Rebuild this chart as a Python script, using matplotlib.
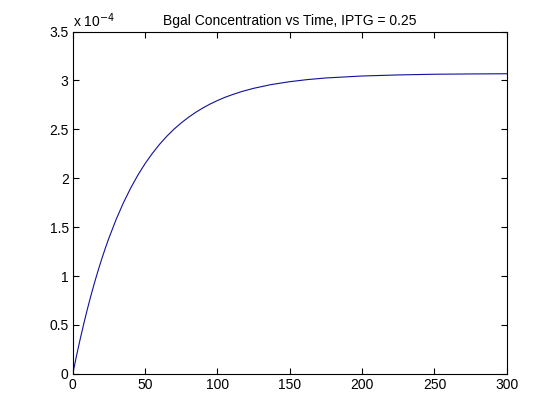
import matplotlib
matplotlib.use("Agg")
import matplotlib.pyplot as plt
from matplotlib.ticker import FuncFormatter, MultipleLocator

plt.rcParams['font.family'] = ['Liberation Sans', 'DejaVu Sans']

time = [0, 2.5, 5, 7.5, 10, 12.5, 15, 17.5, 20, 22.5, 25, 30, 35, 40, 45, 50,
        55, 60, 65, 70, 75, 80, 85, 90, 95, 100, 105, 110, 117, 125, 137,
        150, 162, 175, 200, 225, 250, 275, 300]
bgal_e4 = [0.0, 0.179, 0.348, 0.507, 0.657, 0.798, 0.931, 1.056, 1.174,
           1.285, 1.389, 1.580, 1.749, 1.899, 2.032, 2.150, 2.254, 2.347,
           2.429, 2.502, 2.566, 2.623, 2.674, 2.719, 2.759, 2.794, 2.826,
           2.853, 2.887, 2.919, 2.957, 2.987, 3.008, 3.025, 3.045, 3.056,
           3.063, 3.066, 3.068]
bgal = [v * 1e-4 for v in bgal_e4]
title = "Bgal Concentration vs Time, IPTG = 0.25"

fig = plt.figure(figsize=(5.6, 4.2), dpi=100)
ax = fig.add_axes([0.13, 0.11, 0.775, 0.815])
ax.plot(time, bgal, color='#10109a', linewidth=0.8)
ax.set_xlim(0, 300)
ax.set_ylim(0, 3.5e-4)
ax.xaxis.set_major_locator(MultipleLocator(50))
ax.yaxis.set_major_locator(MultipleLocator(0.5e-4))
ax.yaxis.set_major_formatter(FuncFormatter(lambda v, p: "%g" % round(v * 1e4, 3)))
ax.tick_params(direction='in', top=True, right=True, length=4, width=0.8,
               labelsize=10, pad=3)
for s in ax.spines.values():
    s.set_linewidth(0.8)
ax.set_title(title, fontsize=10, pad=5)
ax.text(0.0, 1.005, r"x 10$^{-4}$", transform=ax.transAxes, fontsize=10,
        ha='left', va='bottom')
fig.savefig("out.png", dpi=100, facecolor='white')
